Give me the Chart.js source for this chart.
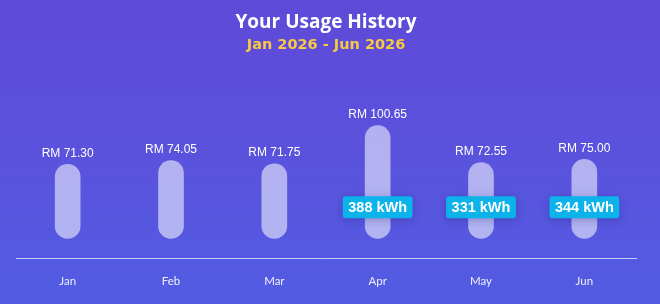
<!DOCTYPE html>
<html>
<head>
<meta charset="utf-8">
<script src="https://cdn.jsdelivr.net/npm/chart.js@4.4.1/dist/chart.umd.min.js"></script>
<style>
    html, body { margin: 0; padding: 0; }
    body {
        width: 660px;
        height: 304px;
        background: linear-gradient(180deg, #5f4ad8 0%, #5a52dd 50%, #525ce3 100%);
        overflow: hidden;
    }
    #wrap { width: 660px; height: 304px; }
</style>
</head>
<body>
<div id="wrap"><canvas id="usageChart"></canvas></div>
<script>
// Данные графика
const months = ['Jan', 'Feb', 'Mar', 'Apr', 'May', 'Jun'];
const billRM = [71.30, 74.05, 71.75, 100.65, 72.55, 75.00];
const usageKWh = [null, null, null, 388, 331, 344];
const chartTitle = 'Your Usage History';
const chartPeriod = 'Jan 2026 - Jun 2026';

// Подписи над столбцами и бейджи kWh
const labelsPlugin = {
    id: 'barLabels',
    afterDatasetsDraw(chart) {
        const ctx = chart.ctx;
        const meta = chart.getDatasetMeta(0);
        const area = chart.chartArea;
        ctx.save();
        meta.data.forEach((bar, i) => {
            ctx.fillStyle = '#ffffff';
            ctx.font = '12px "Liberation Sans", Arial, sans-serif';
            ctx.textAlign = 'center';
            ctx.textBaseline = 'middle';
            ctx.fillText('RM ' + billRM[i].toFixed(2), bar.x, bar.y - 11);

            if (usageKWh[i] !== null) {
                const text = usageKWh[i] + ' kWh';
                ctx.font = 'bold 14.5px "Liberation Sans", Arial, sans-serif';
                const w = ctx.measureText(text).width + 11;
                const h = 22;
                const cy = area.bottom - 51;
                ctx.save();
                ctx.shadowColor = 'rgba(20, 20, 80, 0.25)';
                ctx.shadowBlur = 8;
                ctx.shadowOffsetY = 2;
                ctx.fillStyle = '#0cb2ea';
                ctx.beginPath();
                ctx.roundRect(bar.x - w / 2, cy - h / 2, w, h, 3);
                ctx.fill();
                ctx.restore();
                ctx.fillStyle = '#ffffff';
                ctx.fillText(text, bar.x, cy + 1);
            }
        });
        ctx.restore();
    }
};

const ctx = document.getElementById('usageChart').getContext('2d');

new Chart(ctx, {
    type: 'bar',
    data: {
        labels: months,
        datasets: [{
            label: 'RM',
            data: billRM,
            base: 15,
            backgroundColor: 'rgba(255, 255, 255, 0.55)',
            borderRadius: 13,
            borderSkipped: false,
            barThickness: 25
        }]
    },
    options: {
        responsive: true,
        maintainAspectRatio: false,
        animation: false,
        layout: { padding: { left: 16, right: 24, top: 0, bottom: 0 } },
        plugins: {
            legend: { display: false },
            tooltip: { enabled: false },
            title: {
                display: true,
                text: chartTitle,
                color: '#ffffff',
                font: { family: '"Open Sans"', size: 19, weight: 'bold', lineHeight: 1.2 },
                padding: { top: 11, bottom: 2 }
            },
            subtitle: {
                display: true,
                text: chartPeriod,
                color: '#f8c944',
                font: { family: '"DejaVu Sans"', size: 14.5, weight: 'bold', lineHeight: 1.2 },
                padding: { top: 1, bottom: 46 }
            }
        },
        scales: {
            x: {
                grid: { display: false, drawTicks: false },
                border: { display: true, color: 'rgba(255, 255, 255, 0.7)', width: 1 },
                ticks: {
                    color: 'rgba(255, 255, 255, 0.9)',
                    font: { family: 'Lato', size: 11.5 },
                    padding: 16
                }
            },
            y: {
                display: false,
                min: 0,
                max: 120
            }
        }
    },
    plugins: [labelsPlugin]
});
</script>
</body>
</html>
